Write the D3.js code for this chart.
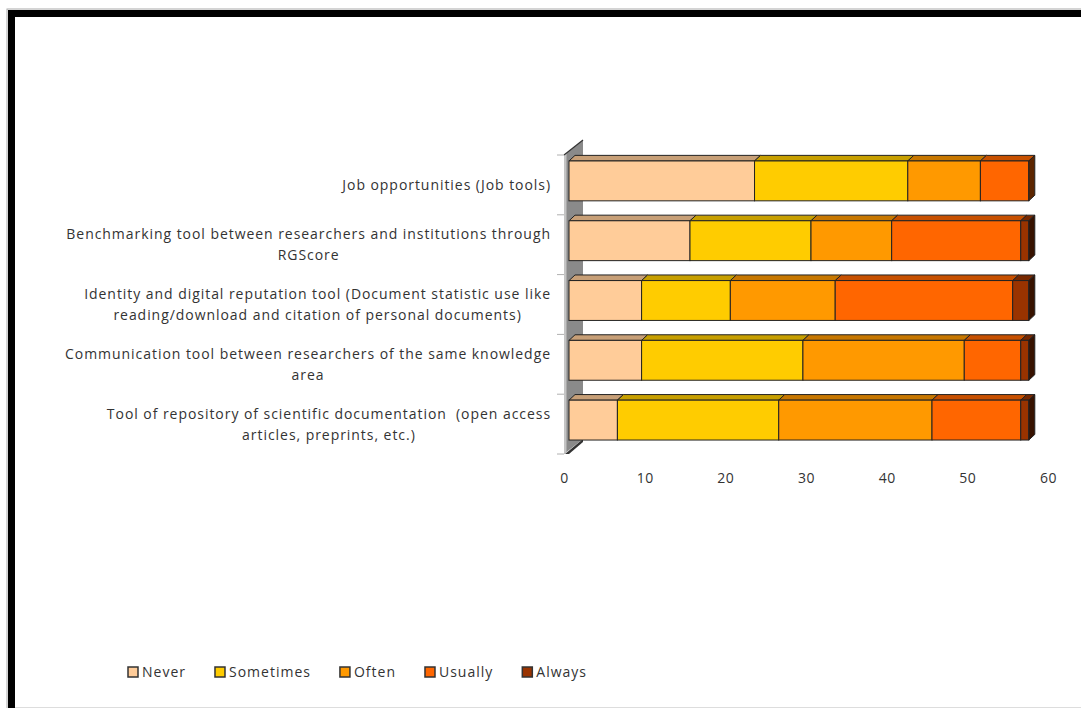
<!DOCTYPE html>
<html>
<head>
<meta charset="utf-8">
<script src="https://cdn.jsdelivr.net/npm/d3@7"></script>
<style>
  html, body { margin: 0; padding: 0; background: #fff; }
  svg { display: block; }
  text { font-family: "Open Sans", "DejaVu Sans", sans-serif; fill: #333; white-space: pre; }
</style>
</head>
<body>
<svg id="chart" width="1081" height="708"></svg>
<script>
// ---- data ----
const categories = [
  "Job opportunities (Job tools)",
  "Benchmarking tool between researchers and institutions through\nRGScore",
  "Identity and digital reputation tool (Document statistic use like\nreading/download and citation of personal documents)",
  "Communication tool between researchers of the same knowledge\narea",
  "Tool of repository of scientific documentation  (open access\narticles, preprints, etc.)"
];
const seriesNames = ["Never", "Sometimes", "Often", "Usually", "Always"];
const never     = [23, 15,  9,  9,  6];
const sometimes = [19, 15, 11, 20, 20];
const often     = [ 9, 10, 13, 20, 19];
const usually   = [ 6, 16, 22,  7, 11];
const always    = [ 0,  1,  2,  1,  1];
const xTicks = [0, 10, 20, 30, 40, 50, 60];

const seriesValues = [never, sometimes, often, usually, always];
const colors = ["#FFCC99", "#FFCC00", "#FF9900", "#FF6600", "#993300"];

// ---- setup ----
const svg = d3.select("#chart");
const W = 1081, H = 708;

// frame
svg.append("rect").attr("x", 7).attr("y", 9).attr("width", W).attr("height", H).attr("fill", "none").attr("stroke", "#aaa").attr("stroke-width", 1);
svg.append("rect").attr("x", 8).attr("y", 10).attr("width", W).attr("height", 7).attr("fill", "#000");
svg.append("rect").attr("x", 8).attr("y", 10).attr("width", 7).attr("height", H).attr("fill", "#000");
svg.append("line").attr("x1", 15).attr("x2", W).attr("y1", 707.5).attr("y2", 707.5).attr("stroke", "#ddd");

const x = d3.scaleLinear().domain([0, 60]).range([564, 1048]);
const y = d3.scaleBand().domain(categories).range([155, 454]).paddingInner(1/3).paddingOuter(1/6);

const wallD = { dx: 19, dy: -15 };
const frontD = { dx: 5, dy: -4 };
const backD = { dx: 11, dy: -9.6 };

// wall
const x0 = x(0), yTop = y.range()[0], yBot = y.range()[1];
const g = svg.append("g");
g.append("path")
  .attr("d", `M${x0},${yTop} L${x0 + wallD.dx},${yTop + wallD.dy} L${x0 + wallD.dx},${yBot + wallD.dy} L${x0},${yBot} Z`)
  .attr("fill", "#8a8a8a");
g.append("path")
  .attr("d", `M${x0},${yTop} L${x0 + 2.5},${yTop - 2} L${x0 + 2.5},${yBot - 2} L${x0},${yBot} Z`)
  .attr("fill", "#c4c4c4");
g.append("path")
  .attr("d", `M${x0},${yTop} L${x0 + wallD.dx},${yTop + wallD.dy}`)
  .attr("stroke", "#333").attr("stroke-width", 1.2).attr("fill", "none");
g.append("path")
  .attr("d", `M${x0 + 1},${yBot} L${x0 + wallD.dx},${yBot + wallD.dy} L${x0 + wallD.dx},${yBot + wallD.dy + 3} L${x0 + 5},${yBot} Z`)
  .attr("fill", "#333");

// category tick marks
const step = y.step();
d3.range(categories.length + 1).forEach(i => {
  g.append("line")
    .attr("x1", x0 - 7).attr("x2", x0)
    .attr("y1", yTop + i * step).attr("y2", yTop + i * step)
    .attr("stroke", "#b0b0b0").attr("stroke-width", 1);
});

function shade(c, k) {
  const r = d3.rgb(c);
  return d3.rgb(r.r * k, r.g * k, r.b * k).formatHex();
}

// bars
const stroke = "#222";
categories.forEach((cat, ci) => {
  let cum = 0;
  const segs = [];
  seriesValues.forEach((vals, si) => {
    const v = vals[ci];
    if (v > 0) segs.push({ s: si, x0: cum, x1: cum + v });
    cum += v;
  });
  const by = y(cat) + frontD.dy;
  const bh = y.bandwidth();
  const bg = svg.append("g");
  const ddx = backD.dx - frontD.dx, ddy = backD.dy - frontD.dy;
  segs.forEach((sg, k) => {
    const fx0 = x(sg.x0) + frontD.dx, fx1 = x(sg.x1) + frontD.dx;
    // top face
    bg.append("path")
      .attr("d", `M${fx0},${by} L${fx0 + ddx},${by + ddy} L${fx1 + ddx},${by + ddy} L${fx1},${by} Z`)
      .attr("fill", shade(colors[sg.s], 0.78)).attr("stroke", stroke).attr("stroke-width", 1).attr("stroke-linejoin", "round");
    // front face
    bg.append("rect")
      .attr("x", fx0).attr("y", by).attr("width", fx1 - fx0).attr("height", bh)
      .attr("fill", colors[sg.s]).attr("stroke", stroke).attr("stroke-width", 1);
    if (k === segs.length - 1) {
      bg.append("path")
        .attr("d", `M${fx1},${by} L${fx1 + ddx},${by + ddy} L${fx1 + ddx},${by + bh + ddy} L${fx1},${by + bh} Z`)
        .attr("fill", shade(colors[sg.s], 0.36)).attr("stroke", stroke).attr("stroke-width", 1).attr("stroke-linejoin", "round");
    }
  });
});

// category labels
const labelX = 551, lineH = 21;
categories.forEach(cat => {
  const lines = cat.split("\n");
  const cy = y(cat) + y.bandwidth() / 2;
  const tg = svg.append("g");
  const texts = lines.map((ln, i) => tg.append("text")
    .attr("font-size", 14)
    .attr("letter-spacing", 0.95)
    .attr("y", cy + (i - (lines.length - 1) / 2) * lineH)
    .attr("dy", "0.35em")
    .attr("text-anchor", "middle")
    .text(ln));
  const maxW = d3.max(texts, t => t.node().getComputedTextLength());
  texts.forEach(t => t.attr("x", labelX - maxW / 2));
});

// x axis
const axis = d3.axisBottom(x).tickValues(xTicks).tickSize(0).tickPadding(3);
const ax = svg.append("g").attr("transform", "translate(0,470)").call(axis);
ax.select(".domain").remove();
ax.selectAll("text").attr("font-size", 14).attr("fill", "#333").attr("font-family", "'Open Sans', sans-serif").attr("letter-spacing", 0.5);

// legend
const lg = svg.append("g");
let lx = 128;
const ly = 672;
seriesNames.forEach((name, i) => {
  lg.append("rect").attr("x", lx).attr("y", ly - 5).attr("width", 10).attr("height", 10)
    .attr("fill", colors[i]).attr("stroke", "#333").attr("stroke-width", 1.5);
  const t = lg.append("text").attr("x", lx + 14).attr("y", ly).attr("dy", "0.35em")
    .attr("font-size", 14).attr("letter-spacing", 1).text(name);
  lx += 14 + t.node().getComputedTextLength() + 29;
});
</script>
</body>
</html>
